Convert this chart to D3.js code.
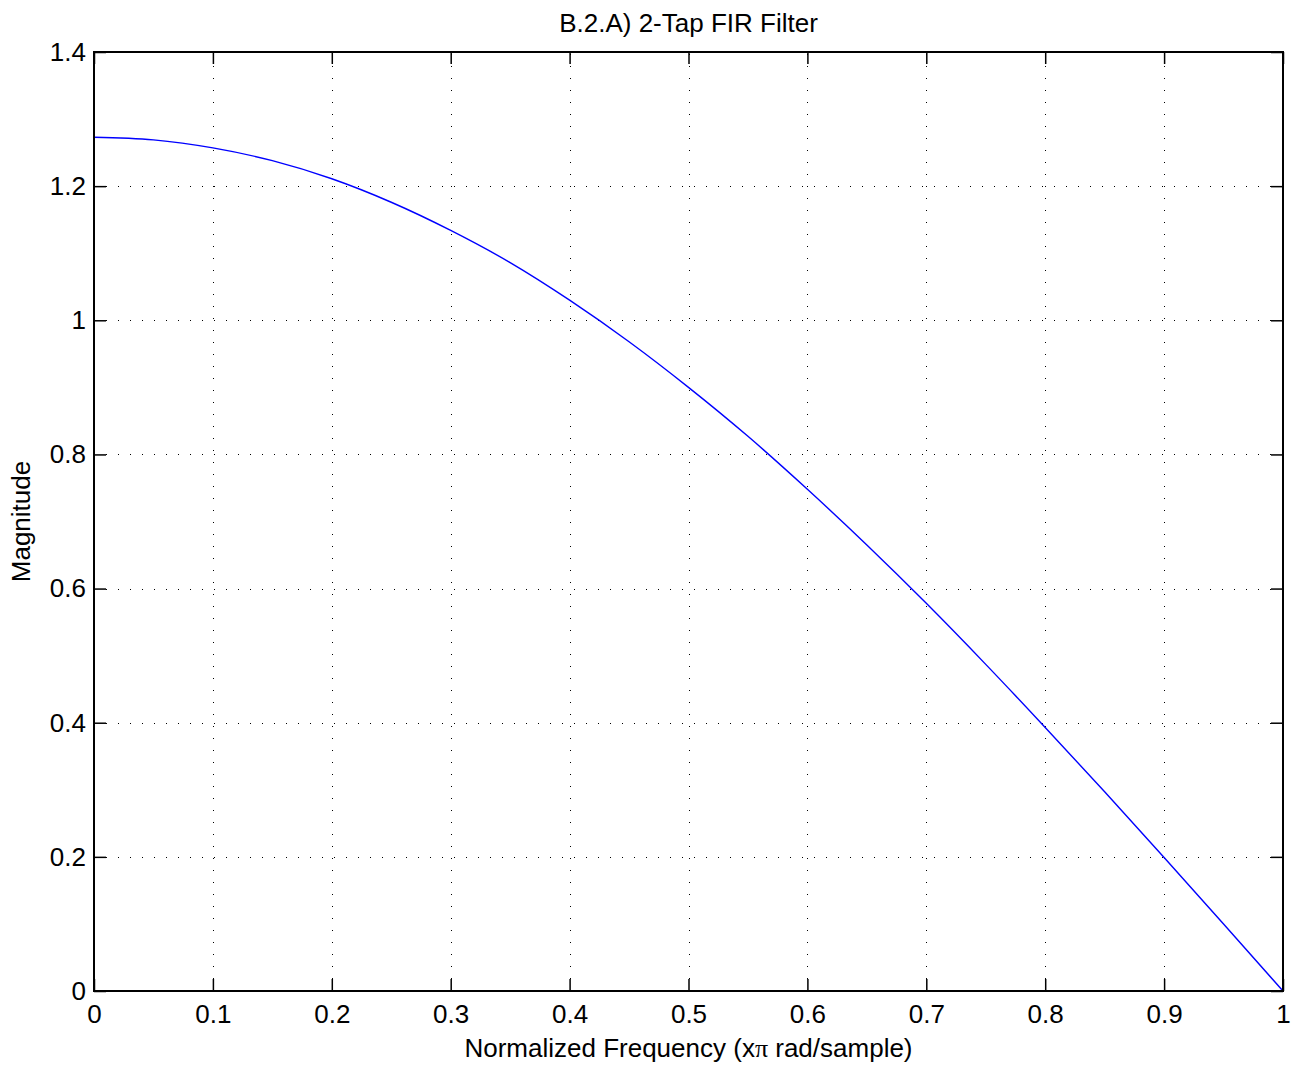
<!DOCTYPE html>
<html>
<head>
<meta charset="utf-8">
<script src="https://cdn.jsdelivr.net/npm/d3@7"></script>
<style>
  html, body { margin: 0; padding: 0; background: #fff; }
  svg { display: block; }
  text { font-family: "Liberation Sans", Arial, Helvetica, sans-serif; fill: #000; }
</style>
</head>
<body>
<svg id="chart" width="1300" height="1070"></svg>
<script>
// Normalized frequency samples (x pi rad/sample)
const freq = [0, 0.05, 0.1, 0.15, 0.2, 0.25, 0.3, 0.35, 0.4, 0.45, 0.5,
              0.55, 0.6, 0.65, 0.7, 0.75, 0.8, 0.85, 0.9, 0.95, 1.0];
// Magnitude response of the 2-tap FIR filter
const magnitude = [1.273, 1.269, 1.257, 1.238, 1.211, 1.176, 1.134, 1.086, 1.030, 0.968, 0.900,
                   0.827, 0.748, 0.665, 0.578, 0.487, 0.393, 0.297, 0.199, 0.100, 0.000];
// Tick values
const xTicks = [0, 0.1, 0.2, 0.3, 0.4, 0.5, 0.6, 0.7, 0.8, 0.9, 1];
const yTicks = [0, 0.2, 0.4, 0.6, 0.8, 1, 1.2, 1.4];
const yTickLabels = ["0", "0.2", "0.4", "0.6", "0.8", "1", "1.2", "1.4"];

const titleText = "B.2.A) 2-Tap FIR Filter";
const xLabelParts = ["Normalized Frequency (x", "\u03C0", " rad/sample)"];
const yLabelText = "Magnitude";

const svg = d3.select("#chart");
const plot = { left: 94, right: 1283, top: 52, bottom: 991 };
const fontSize = 26;
const tickLen = 12;

const x = d3.scaleLinear().domain([0, 1]).range([plot.left, plot.right]);
const y = d3.scaleLinear().domain([0, 1.4]).range([plot.bottom, plot.top]);

// Dotted grid
const grid = svg.append("g").attr("stroke", "#000").attr("stroke-width", 1)
  .attr("stroke-dasharray", "1,11").attr("fill", "none");
grid.selectAll("line.vx").data(xTicks.slice(1, -1)).join("line")
  .attr("x1", d => Math.round(x(d)) + 0.5).attr("x2", d => Math.round(x(d)) + 0.5)
  .attr("y1", plot.bottom).attr("y2", plot.top);
grid.selectAll("line.hy").data(yTicks.slice(1, -1)).join("line")
  .attr("y1", d => Math.round(y(d)) + 0.5).attr("y2", d => Math.round(y(d)) + 0.5)
  .attr("x1", plot.left).attr("x2", plot.right);

// Response curve
const line = d3.line().x(d => x(d[0])).y(d => y(d[1])).curve(d3.curveMonotoneX);
svg.append("path")
  .datum(freq.map((f, i) => [f, magnitude[i]]))
  .attr("d", line)
  .attr("fill", "none")
  .attr("stroke", "#0000ff")
  .attr("stroke-width", 1.4);

// Axes with inward ticks on all four sides
function styleAxis(g) {
  g.select(".domain").remove();
  g.selectAll(".tick line").attr("stroke", "#000").attr("stroke-width", 1.5);
  g.selectAll(".tick text").attr("font-size", fontSize)
    .attr("font-family", "\"Liberation Sans\", Arial, sans-serif").attr("fill", "#000");
}

svg.append("g").attr("transform", `translate(0,${plot.bottom})`)
  .call(d3.axisBottom(x).tickValues(xTicks).tickFormat(d3.format("~g"))
    .tickSizeInner(-tickLen).tickSizeOuter(0).tickPadding(14))
  .call(styleAxis);
svg.append("g").attr("transform", `translate(0,${plot.top})`)
  .call(d3.axisTop(x).tickValues(xTicks).tickFormat("")
    .tickSizeInner(-tickLen).tickSizeOuter(0))
  .call(styleAxis);
svg.append("g").attr("transform", `translate(${plot.left},0)`)
  .call(d3.axisLeft(y).tickValues(yTicks).tickFormat((d, i) => yTickLabels[i])
    .tickSizeInner(-tickLen).tickSizeOuter(0).tickPadding(8))
  .call(styleAxis);
svg.append("g").attr("transform", `translate(${plot.right},0)`)
  .call(d3.axisRight(y).tickValues(yTicks).tickFormat("")
    .tickSizeInner(-tickLen).tickSizeOuter(0))
  .call(styleAxis);

// Axes box
svg.append("rect")
  .attr("x", plot.left).attr("y", plot.top)
  .attr("width", plot.right - plot.left).attr("height", plot.bottom - plot.top)
  .attr("fill", "none").attr("stroke", "#000").attr("stroke-width", 2);

// Title and axis labels
svg.append("text").attr("x", (plot.left + plot.right) / 2).attr("y", 32)
  .attr("text-anchor", "middle").attr("font-size", fontSize).text(titleText);
const xl = svg.append("text").attr("x", (plot.left + plot.right) / 2).attr("y", 1057)
  .attr("text-anchor", "middle").attr("font-size", fontSize);
xl.selectAll("tspan").data(xLabelParts).join("tspan")
  .attr("font-family", (d, i) => i === 1 ? "\"Liberation Serif\", \"Times New Roman\", serif" : null)
  .text(d => d);
svg.append("text")
  .attr("transform", `translate(30,${(plot.top + plot.bottom) / 2}) rotate(-90)`)
  .attr("text-anchor", "middle").attr("font-size", fontSize).text(yLabelText);
</script>
</body>
</html>
